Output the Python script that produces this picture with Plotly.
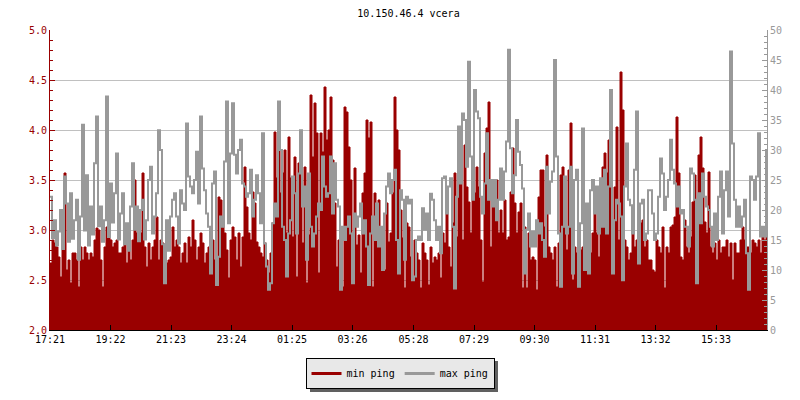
import plotly.graph_objects as go

title_text = "10.150.46.4 vcera"
tick_labels = ["17:21", "19:22", "21:23", "23:24", "01:25", "03:26",
               "05:28", "07:29", "09:30", "11:31", "13:32", "15:33"]
step_minutes = 4

min_ping = [
    2.67,2.90,2.87,2.83,2.73,2.53,2.93,3.57,2.60,2.70, 2.47,2.77,2.77,2.70,2.43,2.83,2.70,2.83,2.77,2.70,
    2.77,2.73,2.90,3.02,3.00,2.70,2.43,2.83,3.03,3.23, 2.90,2.83,2.87,2.90,2.77,2.77,2.83,2.90,2.67,2.80,
    2.70,2.90,3.50,2.97,2.90,2.97,3.57,2.83,2.63,2.87, 2.70,2.83,2.90,3.13,2.70,2.90,2.87,2.83,2.67,2.70,
    2.73,3.03,2.83,2.90,2.83,2.67,2.77,2.87,2.67,2.93, 2.83,3.10,2.90,2.70,2.83,2.97,2.87,2.67,2.77,2.83,
    2.77,2.90,2.70,2.73,3.33,3.30,3.07,2.97,2.80,2.52, 2.90,3.03,2.93,2.70,2.97,2.63,2.93,3.63,3.23,2.97,
    2.90,3.38,3.27,2.88,2.83,2.77,2.73,2.87,2.70,2.57, 2.77,3.07,3.98,3.52,4.05,3.37,3.57,3.80,2.97,3.93,
    3.52,2.93,3.73,2.53,3.67,3.63,2.87,3.63,2.47,2.95, 4.35,3.73,4.27,3.97,2.57,3.97,3.78,4.43,3.90,4.00,
    4.33,3.70,3.27,2.63,2.90,2.50,2.43,4.23,4.18,3.83, 3.50,2.48,3.62,2.85,2.95,2.57,3.37,3.57,4.10,3.92,
    4.08,2.43,3.37,3.20,3.30,2.90,2.93,2.60,3.27,2.88, 2.97,3.37,4.33,4.00,3.80,3.20,2.92,2.42,3.07,3.03,
    2.73,2.50,2.90,2.77,2.70,2.42,2.87,2.77,2.70,2.45, 2.83,2.67,2.73,2.70,2.77,2.52,2.97,2.87,3.38,2.83,
    2.63,3.07,3.57,2.93,3.65,3.62,2.90,3.85,3.43,3.28, 2.97,3.58,3.37,3.63,3.43,2.90,2.48,3.77,4.02,4.28,
    2.83,3.43,3.37,3.50,2.97,3.20,2.97,3.30,2.90,2.93, 3.38,3.82,3.27,2.97,3.18,3.27,2.42,3.03,2.42,2.97,
    2.70,2.73,2.70,2.40,3.33,3.60,3.60,3.03,3.75,2.83, 2.77,2.70,2.83,2.43,2.87,3.55,3.63,3.43,2.80,3.60,
    4.07,2.50,2.83,2.77,2.70,2.80,2.83,2.67,2.90,2.90, 2.77,2.97,3.37,2.97,2.73,3.03,3.63,3.77,3.57,3.90,
    3.63,2.77,3.43,4.03,2.90,4.58,4.20,2.90,2.83,2.70, 2.77,3.20,2.83,2.90,2.70,3.07,3.10,2.83,2.90,2.70,
    2.70,2.60,2.58,2.90,2.83,2.77,3.03,2.42,2.83,2.77, 3.03,3.05,3.13,4.13,3.57,2.73,2.70,3.10,2.83,2.77,
    2.93,3.28,3.55,2.83,3.75,3.93,3.62,3.08,2.97,3.58, 2.83,2.77,2.87,2.70,2.90,2.77,2.83,2.83,2.90,2.73,
    2.87,2.50,2.87,2.77,2.77,2.90,3.03,2.90,2.83,2.83, 2.77,2.90,2.87,2.83,2.90,2.77,2.97,2.90,3.18,3.10,
]

max_ping = [
    22.2,15.3,18.3,14.1,16.4,20.0,13.5,25.6,21.1,14.7, 22.8,15.2,18.3,21.7,11.7,18.9,34.2,16.6,25.8,14.1,
    20.6,15.9,27.8,35.6,17.3,20.6,14.7,18.3,38.9,15.5, 24.4,17.9,22.8,29.4,15.1,19.4,22.8,14.3,17.8,13.2,
    20.6,27.8,16.7,20.6,14.8,20.0,21.7,15.1,18.3,25.0, 27.2,16.1,18.9,22.8,33.3,30.0,14.3,7.8,18.3,13.2,
    18.9,21.7,22.8,18.9,14.4,23.3,21.1,20.0,34.4,25.6, 23.9,22.8,25.0,29.7,21.1,35.6,26.9,23.3,19.4,17.2,
    9.4,24.4,26.4,7.5,12.2,18.9,17.2,28.1,38.1,17.8, 29.4,37.8,29.2,26.1,30.0,31.7,24.4,23.9,22.2,22.8,
    26.7,18.9,21.7,25.8,22.8,17.8,32.8,14.4,10.6,6.7, 7.8,17.8,21.1,18.9,38.1,30.0,17.2,15.0,8.9,16.1,
    18.3,25.6,22.8,16.1,26.1,33.3,20.6,23.9,11.7,26.1, 17.2,13.9,16.1,18.9,21.1,20.0,28.9,23.9,22.2,22.8,
    28.9,19.4,27.8,21.7,20.6,6.7,17.2,15.0,17.2,18.9, 16.1,7.8,19.4,17.2,18.9,21.1,16.1,18.3,13.9,7.5,
    16.1,18.9,15.0,21.1,13.9,17.2,10.0,19.4,23.9,26.1, 22.8,25.0,26.7,15.0,9.4,23.3,21.7,11.7,22.2,21.1,
    21.7,8.3,8.9,15.0,15.6,15.0,20.3,16.7,19.4,15.0, 22.7,21.7,18.3,15.0,17.2,12.8,25.3,25.6,19.4,23.9,
    25.3,17.2,6.9,22.2,33.9,24.4,36.1,35.0,27.2,44.7, 28.9,21.7,40.0,36.4,35.3,22.2,19.4,24.4,32.8,21.7,
    25.0,20.6,25.0,18.3,21.7,26.9,21.7,26.4,31.4,46.7, 30.3,22.8,25.8,35.0,29.7,27.5,23.6,9.4,16.7,19.4,
    13.9,16.4,13.9,18.3,16.1,17.8,15.0,12.2,27.2,19.4, 24.7,26.4,45.0,28.9,16.1,7.2,17.2,25.6,16.1,17.2,
    27.2,9.4,25.0,26.7,7.2,17.8,33.6,10.0,21.1,9.4, 23.3,25.0,19.4,23.9,16.1,25.3,17.2,26.7,16.1,23.9,
    40.0,9.4,18.3,21.7,21.1,18.9,8.3,23.9,31.1,21.7, 20.8,16.1,26.7,36.4,11.1,21.1,21.7,15.0,16.1,23.3,
    23.3,19.4,15.0,16.1,22.2,28.6,26.1,20.0,22.2,25.0, 31.7,26.7,24.4,20.6,23.9,19.4,20.0,17.2,17.2,13.9,
    26.9,26.1,21.7,7.8,22.8,17.8,26.1,22.2,20.6,20.0, 17.2,13.9,19.4,15.0,22.2,26.4,16.1,23.3,26.4,18.9,
    46.4,31.1,21.7,17.2,20.6,17.2,18.9,21.7,12.8,6.7, 25.6,25.0,21.7,25.6,32.8,15.6,17.2,15.6,30.0,27.2,
]

RED = "#990000"
GRAY = "#999999"
FONT = "DejaVu Sans Mono"

x_vals = [i * step_minutes for i in range(len(min_ping))]

def to_min(lbl):
    h, m = lbl.split(":")
    return int(h) * 60 + int(m)

start = to_min(tick_labels[0])
tick_vals = [(to_min(t) - start) % 1440 for t in tick_labels]

fig = go.Figure()
fig.add_trace(go.Scatter(
    x=x_vals, y=min_ping, mode="lines", line=dict(color=RED, width=1, shape="hv"),
    fill="tozeroy", fillcolor=RED, showlegend=False, yaxis="y", hoverinfo="skip"))
fig.add_trace(go.Scatter(
    x=x_vals, y=max_ping, mode="lines", line=dict(color=GRAY, width=2, shape="hv"),
    showlegend=False, yaxis="y2", hoverinfo="skip"))
# legend entries
fig.add_trace(go.Scatter(x=[None], y=[None], mode="lines", line=dict(color=RED, width=3), name="min ping"))
fig.add_trace(go.Scatter(x=[None], y=[None], mode="lines", line=dict(color=GRAY, width=3), name="max ping"))

# legend drop shadow (decoration, in paper coordinates)
fig.add_shape(type="rect", xref="paper", yref="paper",
              x0=(310 - 50) / 717, x1=(498 - 50) / 717,
              y0=(330 - 361) / 300, y1=(330 - 392) / 300,
              fillcolor="#606060", line=dict(width=0), layer="above")

fig.update_layout(
    width=800, height=400,
    margin=dict(l=50, r=33, t=30, b=70, autoexpand=False),
    paper_bgcolor="white", plot_bgcolor="white",
    font=dict(family=FONT, size=10, color="black"),
    title=dict(text=title_text, x=0.5, xref="paper", xanchor="center",
               y=1 - 13 / 400, yref="container", yanchor="middle",
               font=dict(family=FONT, size=10, color="black")),
    showlegend=True,
    legend=dict(orientation="h", x=0.5, xanchor="center", xref="container",
                y=1 - 358 / 400, yanchor="top", yref="container",
                bgcolor="#e8e8e8", bordercolor="black", borderwidth=1,
                font=dict(family=FONT, size=10, color="black"),
                itemwidth=30, tracegroupgap=0),
    xaxis=dict(range=[0, 1434], tickvals=tick_vals, ticktext=tick_labels, automargin=False,
               showgrid=False, zeroline=False, showline=True, linecolor="black", linewidth=1,
               ticks="inside", ticklen=5, tickcolor="black",
               tickfont=dict(family=FONT, size=10, color="black")),
    yaxis=dict(range=[2, 5], dtick=0.5, tick0=2, tickformat=".1f", automargin=False,
               showgrid=True, gridcolor="#c0c0c0", gridwidth=1, zeroline=False,
               showline=True, linecolor=RED, linewidth=1,
               ticks="inside", ticklen=5, tickcolor=RED,
               minor=dict(dtick=0.1, ticks="inside", ticklen=3, tickcolor=RED, showgrid=False),
               tickfont=dict(family=FONT, size=10, color=RED)),
    yaxis2=dict(range=[0, 50], dtick=5, tick0=0, overlaying="y", side="right", automargin=False,
                showgrid=False, zeroline=False, showline=True, linecolor=GRAY, linewidth=1,
                ticks="inside", ticklen=5, tickcolor=GRAY,
                minor=dict(dtick=1, ticks="inside", ticklen=3, tickcolor=GRAY, showgrid=False),
                tickfont=dict(family=FONT, size=10, color=GRAY)),
)

fig.write_html("out.html", config={"displayModeBar": False},
               post_script="document.body.style.margin='0px';")
